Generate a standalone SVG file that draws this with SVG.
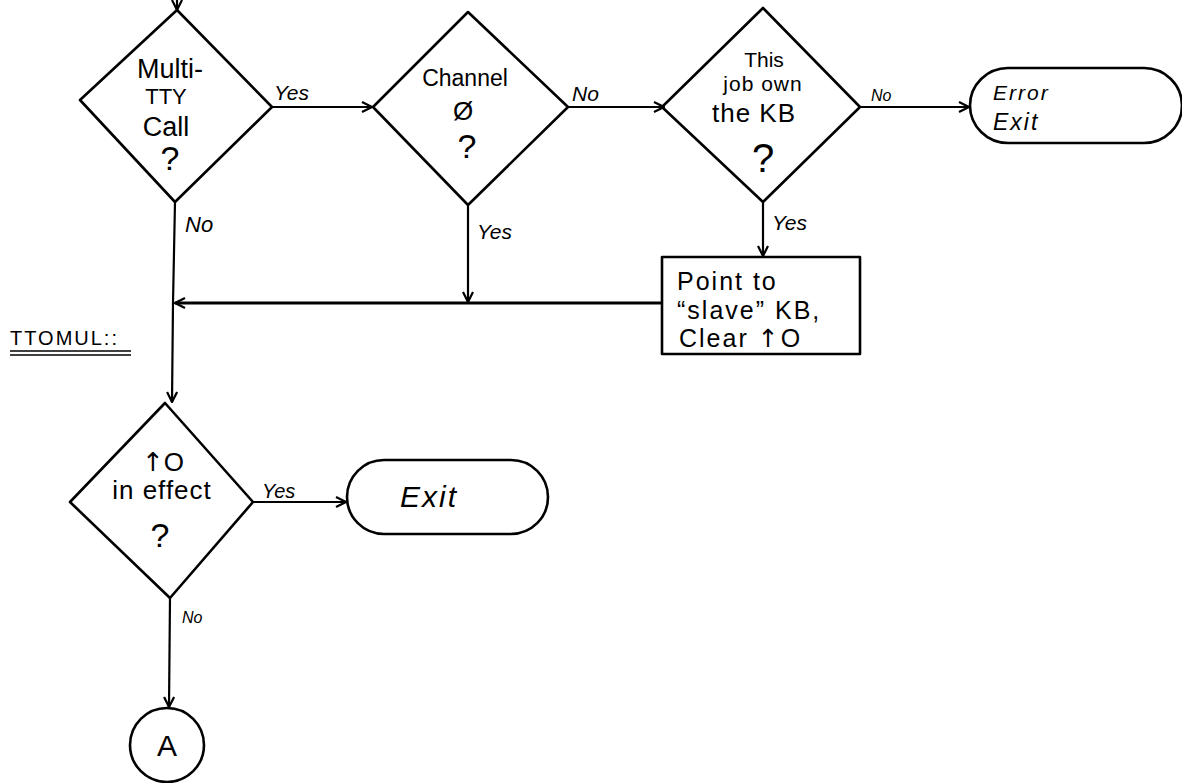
<svg xmlns="http://www.w3.org/2000/svg" width="1182" height="783" viewBox="0 0 1182 783">
<defs>
<marker id="arr" viewBox="0 0 12 12" refX="11" refY="6" markerWidth="12" markerHeight="12" markerUnits="userSpaceOnUse" orient="auto">
<path d="M1,1 L11,6 L1,11" fill="none" stroke="#000" stroke-width="2.2"/>
</marker>
</defs>
<style>
.s{fill:none;stroke:#000;stroke-width:2.6;stroke-linejoin:round}
.c{fill:none;stroke:#000;stroke-width:2.2}
.t{font-family:"Liberation Sans",Arial,sans-serif;fill:#000}
.m{text-anchor:middle}
.l{font-family:"Liberation Sans",Arial,sans-serif;fill:#000;font-style:italic}
.u{font-family:"DejaVu Sans",sans-serif}
</style>
<rect width="1182" height="783" fill="#fff"/>
<g id="connectors">
<line class="c" x1="177" y1="0" x2="177" y2="10" marker-end="url(#arr)"/>
<line class="c" x1="272" y1="107" x2="372" y2="107" marker-end="url(#arr)"/>
<line class="c" x1="568" y1="107" x2="664" y2="107" marker-end="url(#arr)"/>
<line class="c" x1="860" y1="107" x2="969" y2="107" marker-end="url(#arr)"/>
<line class="c" x1="763" y1="202" x2="763" y2="256" marker-end="url(#arr)"/>
<line class="c" x1="468" y1="205" x2="468" y2="302" marker-end="url(#arr)"/>
<line x1="662" y1="303" x2="175" y2="303" stroke="#000" stroke-width="3.2" marker-end="url(#arr)"/>
<line class="c" x1="175" y1="202" x2="173" y2="303"/>
<line class="c" x1="173" y1="303" x2="172" y2="402" marker-end="url(#arr)"/>
<line class="c" x1="253" y1="502" x2="346" y2="502" marker-end="url(#arr)"/>
<line class="c" x1="170" y1="598" x2="169" y2="707" marker-end="url(#arr)"/>
<text class="l" x="274" y="100" style="font-size:21px">Yes</text>
<text class="l" x="572" y="101" style="font-size:21px">No</text>
<text class="l" x="871" y="101" style="font-size:16px">No</text>
<text class="l" x="185" y="232" style="font-size:22px">No</text>
<text class="l" x="477" y="239" style="font-size:21px">Yes</text>
<text class="l" x="772" y="230" style="font-size:21px">Yes</text>
<text class="l" x="262" y="498" style="font-size:20px">Yes</text>
<text class="l" x="182" y="623" style="font-size:16px">No</text>
</g>
<g id="d1">
<path class="s" d="M177,10 L272,107 L175,202 L80,100 Z"/>
<text class="t m" x="170" y="78" style="font-size:27px">Multi-</text>
<text class="t m" x="166" y="104" style="font-size:22px">TTY</text>
<text class="t m" x="166" y="136" style="font-size:27px">Call</text>
<text class="t m" x="170" y="170" style="font-size:34px">?</text>
</g>
<g id="d2">
<path class="s" d="M468,12 L568,107 L468,205 L373,107 Z"/>
<text class="t m" x="465" y="86" style="font-size:23px">Channel</text>
<text class="t m" x="463" y="120" style="font-size:26px">Ø</text>
<text class="t m" x="467" y="158" style="font-size:34px">?</text>
</g>
<g id="d3">
<path class="s" d="M763,8 L860,107 L763,202 L662,107 Z"/>
<text class="t m" x="764" y="67" style="font-size:21px">This</text>
<text class="t m" x="763" y="91" style="font-size:21px;letter-spacing:1px">job own</text>
<text class="t m" x="754" y="122" style="font-size:26px;letter-spacing:1px">the KB</text>
<text class="t m" x="763" y="172" style="font-size:40px">?</text>
</g>
<g id="errexit">
<rect class="s" x="970" y="68" width="212" height="75" rx="38" ry="38"/>
<text class="t" x="993" y="100" style="font-size:21px;font-style:italic;letter-spacing:2px">Error</text>
<text class="t" x="993" y="130" style="font-size:23px;font-style:italic;letter-spacing:2px">Exit</text>
</g>
<g id="box">
<rect class="s" x="662" y="257" width="198" height="97"/>
<text class="t" x="677" y="290" style="font-size:25px;letter-spacing:2px">Point  to</text>
<text class="t" x="677" y="319" style="font-size:25px;letter-spacing:2px">“slave” KB,</text>
<text class="t" x="679" y="347" style="font-size:25px;letter-spacing:2px">Clear <tspan class="u">↑</tspan>O</text>
</g>
<g id="label">
<text class="t" x="10" y="345" style="font-size:20px;letter-spacing:2px">TTOMUL::</text>
<line x1="10" y1="351" x2="131" y2="351" stroke="#000" stroke-width="1.5"/>
<line x1="10" y1="355" x2="131" y2="355" stroke="#000" stroke-width="1.5"/>
</g>
<g id="d4">
<path class="s" d="M165,403 L253,502 L170,598 L70,502 Z"/>
<text class="t m" x="163" y="471" style="font-size:26px"><tspan class="u">↑</tspan>O</text>
<text class="t m" x="162" y="499" style="font-size:26px;letter-spacing:1px">in effect</text>
<text class="t m" x="160" y="547" style="font-size:34px">?</text>
</g>
<g id="exit">
<rect class="s" x="347" y="460" width="201" height="74" rx="37" ry="37"/>
<text class="t" x="400" y="507" style="font-size:30px;font-style:italic;letter-spacing:2px">Exit</text>
</g>
<g id="connA">
<circle class="s" cx="167" cy="745" r="37"/>
<text class="t m" x="167" y="756" style="font-size:30px">A</text>
</g>
</svg>
